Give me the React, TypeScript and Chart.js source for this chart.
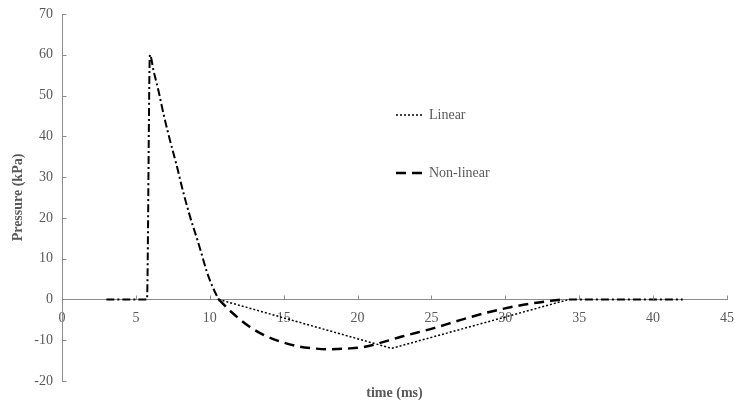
import React, { useEffect, useRef } from "react";
import { Chart, registerables } from "chart.js";

Chart.register(...registerables);

// Positive phase (dash-dot), shared by both models
const pulseTime = [3, 5.75, 5.95, 6.2, 6.52, 6.9, 7.31, 7.75, 8.17, 8.65, 9.16, 9.5, 9.79, 10.2, 10.6];
const pulsePressure = [0, 0, 60, 56, 51.3, 45, 39, 33, 26.8, 20.5, 14.6, 10.5, 6.9, 3, 0];
// Tail after the negative phase (dash-dot)
const tailTime = [34.3, 42];
const tailPressure = [0, 0];
// Linear negative phase (dotted)
const linearTime = [10.6, 22.3, 34.3];
const linearPressure = [0, -12, 0];
// Non-linear negative phase (dashed)
const nonlinearTime = [10.6, 11.5, 12.7, 13.7, 14.75, 16.1, 17.0, 17.9, 19.5, 20.5, 21.3, 23.0, 25.1, 27.0, 29.0, 30.5, 31.9, 33.9];
const nonlinearPressure = [0, -3.2, -6.7, -8.8, -10.3, -11.6, -12.0, -12.2, -12.0, -11.6, -10.9, -9.1, -7.1, -5.0, -3.0, -1.8, -0.9, 0];

const xTicks = [0, 5, 10, 15, 20, 25, 30, 35, 40, 45];
const yTicks = [-20, -10, 0, 10, 20, 30, 40, 50, 60, 70];
const legendLabels = ["Linear", "Non-linear"];

const toPts = (xs: number[], ys: number[]) => xs.map((x, i) => ({ x, y: ys[i] }));

const FONT = "'Liberation Serif', 'Times New Roman', serif";
const GREY = "#595959";
const AXIS = "#8c8c8c";

export default function App() {
  const ref = useRef<HTMLCanvasElement | null>(null);

  useEffect(() => {
    document.body.style.margin = "0";
    if (!ref.current) return;

    const extras = {
      id: "extras",
      afterDraw(chart: any) {
        const ctx = chart.ctx;
        const xs = chart.scales.x;
        const ys = chart.scales.y;
        const area = chart.chartArea;
        ctx.save();
        // inside tick marks
        ctx.strokeStyle = AXIS;
        ctx.lineWidth = 1;
        const y0 = Math.round(ys.getPixelForValue(0)) + 0.5;
        xTicks.forEach((t) => {
          const px = Math.round(xs.getPixelForValue(t)) + 0.5;
          ctx.beginPath();
          ctx.moveTo(px, y0);
          ctx.lineTo(px, y0 - 4);
          ctx.stroke();
        });
        const x0 = Math.round(xs.getPixelForValue(0)) + 0.5;
        yTicks.forEach((t) => {
          const py = Math.round(ys.getPixelForValue(t)) + 0.5;
          ctx.beginPath();
          ctx.moveTo(x0, py);
          ctx.lineTo(x0 + 4, py);
          ctx.stroke();
        });
        // x axis title
        ctx.fillStyle = GREY;
        ctx.font = `bold 14px ${FONT}`;
        ctx.textAlign = "center";
        ctx.textBaseline = "middle";
        ctx.fillText("time (ms)", (area.left + area.right) / 2, 393);
        // legend
        const lx = 396;
        const items = [
          { y: 115, dash: [2, 2], w: 1.5, text: legendLabels[0] },
          { y: 173, dash: [10, 6], w: 2.5, text: legendLabels[1] },
        ];
        items.forEach((it) => {
          ctx.strokeStyle = "#000";
          ctx.lineWidth = it.w;
          ctx.setLineDash(it.dash);
          ctx.beginPath();
          ctx.moveTo(lx, it.y);
          ctx.lineTo(lx + 27, it.y);
          ctx.stroke();
          ctx.setLineDash([]);
          ctx.fillStyle = GREY;
          ctx.font = `14px ${FONT}`;
          ctx.textAlign = "left";
          ctx.fillText(it.text, lx + 33, it.y);
        });
        ctx.restore();
      },
    };

    const chart = new Chart(ref.current, {
      type: "line",
      data: {
        datasets: [
          {
            label: "Positive phase",
            data: toPts(pulseTime, pulsePressure),
            borderColor: "#000",
            borderWidth: 2,
            borderDash: [8, 3, 2, 3],
            pointRadius: 0,
            cubicInterpolationMode: "monotone",
            fill: false,
          },
          {
            label: "Tail",
            data: toPts(tailTime, tailPressure),
            borderColor: "#000",
            borderWidth: 2,
            borderDash: [8, 3, 2, 3],
            pointRadius: 0,
            fill: false,
          },
          {
            label: legendLabels[0],
            data: toPts(linearTime, linearPressure),
            borderColor: "#000",
            borderWidth: 1.5,
            borderDash: [2, 2],
            pointRadius: 0,
            fill: false,
          },
          {
            label: legendLabels[1],
            data: toPts(nonlinearTime, nonlinearPressure),
            borderColor: "#000",
            borderWidth: 2.5,
            borderDash: [10, 6],
            pointRadius: 0,
            cubicInterpolationMode: "monotone",
            fill: false,
          },
        ],
      },
      options: {
        animation: false,
        responsive: false,
        maintainAspectRatio: false,
        layout: { padding: { top: 14, bottom: 23, right: 8, left: 0 } },
        plugins: {
          legend: { display: false },
          tooltip: { enabled: false },
        },
        scales: {
          x: {
            type: "linear",
            min: 0,
            max: 45,
            position: { y: 0 } as any,
            afterBuildTicks: (s: any) => {
              s.ticks = xTicks.map((v) => ({ value: v }));
            },
            afterFit: (s: any) => {
              s.paddingLeft = 0;
              s.paddingRight = 0;
            },
            grid: { display: false, drawTicks: false },
            border: { display: true, color: AXIS, width: 1 },
            ticks: {
              padding: 10,
              color: GREY,
              font: { family: FONT, size: 14 },
            },
          },
          y: {
            type: "linear",
            min: -20,
            max: 70,
            afterBuildTicks: (s: any) => {
              s.ticks = yTicks.map((v) => ({ value: v }));
            },
            afterFit: (s: any) => {
              s.width = 62;
              s.paddingTop = 0;
              s.paddingBottom = 0;
            },
            grid: { display: false, drawTicks: false },
            border: { display: true, color: AXIS, width: 1 },
            ticks: {
              padding: 9,
              color: GREY,
              font: { family: FONT, size: 14 },
            },
            title: {
              display: true,
              text: "Pressure (kPa)",
              color: GREY,
              font: { family: FONT, size: 14, weight: "bold" },
              padding: { top: 10, bottom: 0 },
            },
          },
        },
      },
      plugins: [extras],
    });

    return () => chart.destroy();
  }, []);

  return <canvas ref={ref} width={735} height={404} style={{ display: "block" }} />;
}
